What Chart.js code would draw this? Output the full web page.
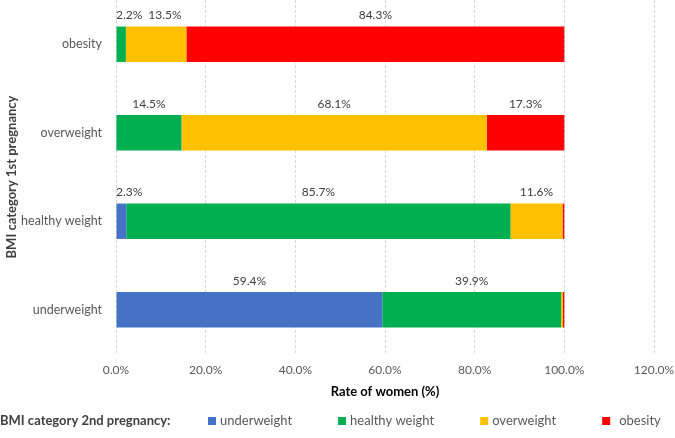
<!DOCTYPE html>
<html>
<head>
<meta charset="utf-8">
<script src="https://cdn.jsdelivr.net/npm/chart.js@4.4.1/dist/chart.umd.min.js"></script>
<style>
  html, body { margin: 0; padding: 0; background: #fff; }
  #wrap { width: 675px; height: 438px; position: relative; }
</style>
</head>
<body>
<div id="wrap"><canvas id="bmiChart"></canvas></div>
<script>
// BMI category in 1st pregnancy (rows, top to bottom)
const categories = ['obesity', 'overweight', 'healthy weight', 'underweight'];

// share of women in each BMI category at 2nd pregnancy (%)
const underweight   = [0.0, 0.1, 2.3, 59.4];
const healthyWeight = [2.2, 14.5, 85.7, 39.9];
const overweight    = [13.5, 68.1, 11.6, 0.4];
const obesity       = [84.3, 17.3, 0.4, 0.3];

const xTicks = [0, 20, 40, 60, 80, 100, 120];

const FONT = 'Lato, "Open Sans", sans-serif';

/* value labels above each segment, nudged right when they collide */
const segmentLabels = {
  id: 'segmentLabels',
  afterDatasetsDraw(chart) {
    const ctx = chart.ctx;
    const area = chart.chartArea;
    ctx.save();
    ctx.font = '12px ' + FONT;
    ctx.fillStyle = '#404040';
    ctx.textBaseline = 'bottom';
    ctx.textAlign = 'left';
    categories.forEach((cat, i) => {
      let lastRight = area.left - 10;
      chart.data.datasets.forEach((ds, d) => {
        const v = ds.data[i];
        if (v < 1) return;
        const bar = chart.getDatasetMeta(d).data[i];
        const txt = v.toFixed(1) + '%';
        const w = ctx.measureText(txt).width;
        const mid = (bar.base + bar.x) / 2;
        let left = Math.max(mid - w / 2, area.left);
        if (left < lastRight + 6) left = lastRight + 6;
        ctx.fillText(txt, left, bar.y - bar.height / 2 - 5);
        lastRight = left + w;
      });
    });
    ctx.restore();
  }
};

/* bottom legend: caption on the left, then one square + name per series */
const bottomLegend = {
  id: 'bottomLegend',
  afterDraw(chart) {
    const ctx = chart.ctx;
    const y = chart.height - 17;
    ctx.save();
    ctx.textBaseline = 'middle';
    ctx.textAlign = 'left';
    ctx.font = 'bold 13px ' + FONT;
    ctx.fillStyle = '#404040';
    ctx.fillText('BMI category 2nd pregnancy:', 0, y);
    ctx.font = '13px ' + FONT;
    let x = 208;
    chart.data.datasets.forEach((ds, d) => {
      ctx.fillStyle = ds.backgroundColor;
      ctx.fillRect(x, y - 4, 8, 8);
      const gap = d === chart.data.datasets.length - 1 ? 9 : 4;
      ctx.fillStyle = '#595959';
      ctx.fillText(ds.label, x + 8 + gap, y);
      x += 8 + gap + ctx.measureText(ds.label).width + 46;
    });
    ctx.restore();
  }
};

// drop the label overhang padding so the plot fills the frame like the original
function noOverhang(scale) {
  scale.paddingTop = 0;
  scale.paddingBottom = 0;
  scale.paddingLeft = 0;
  scale.paddingRight = 0;
}

new Chart(document.getElementById('bmiChart'), {
  type: 'bar',
  data: {
    labels: categories,
    datasets: [
      { label: 'underweight', data: underweight, backgroundColor: '#4472C4' },
      { label: 'healthy weight', data: healthyWeight, backgroundColor: '#00B050' },
      { label: 'overweight', data: overweight, backgroundColor: '#FFC000' },
      { label: 'obesity', data: obesity, backgroundColor: '#FF0000' }
    ]
  },
  options: {
    indexAxis: 'y',
    responsive: true,
    maintainAspectRatio: false,
    animation: false,
    layout: { padding: { top: 0, right: 21, bottom: 38, left: 4 } },
    datasets: {
      bar: { barPercentage: 0.4, categoryPercentage: 1.0, borderWidth: 0 }
    },
    scales: {
      x: {
        stacked: true,
        min: 0,
        max: 120,
        afterBuildTicks(scale) { scale.ticks = xTicks.map(v => ({ value: v })); },
        afterFit: noOverhang,
        grid: { color: '#D9D9D9', drawTicks: false, lineWidth: 1 },
        border: { display: false, dash: [3, 2] },
        ticks: {
          color: '#595959',
          font: { family: FONT, size: 12 },
          padding: 9,
          callback: v => v.toFixed(1) + '%'
        },
        title: {
          display: true,
          text: 'Rate of women (%)',
          color: '#000000',
          font: { family: FONT, size: 13, weight: 'bold' },
          padding: { top: -2, bottom: 0 }
        }
      },
      y: {
        stacked: true,
        grid: { display: false, drawTicks: false },
        border: { display: false },
        afterFit(scale) { scale.width = 112; noOverhang(scale); },
        ticks: {
          color: '#595959',
          font: { family: FONT, size: 12.5 },
          padding: 14
        },
        title: {
          display: true,
          text: 'BMI category 1st pregnancy',
          color: '#404040',
          font: { family: FONT, size: 13, weight: 'bold' },
          padding: { top: 0, bottom: 0 }
        }
      }
    },
    plugins: {
      tooltip: { enabled: false },
      legend: { display: false }
    }
  },
  plugins: [segmentLabels, bottomLegend]
});
</script>
</body>
</html>
